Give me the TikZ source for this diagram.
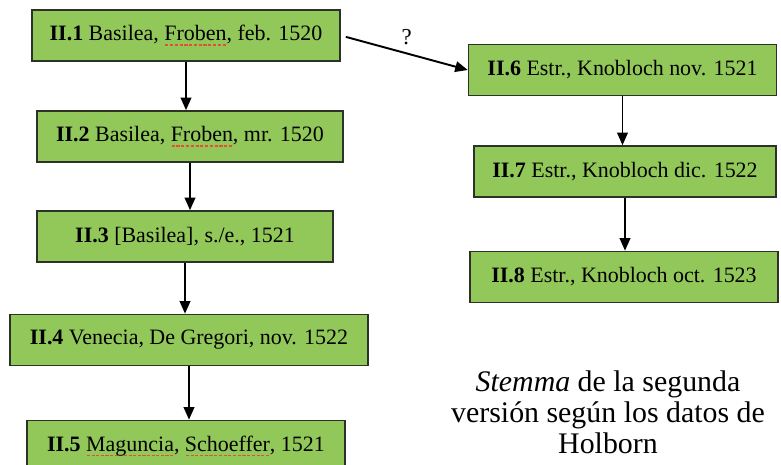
\documentclass[tikz,border=0pt]{standalone}
\usepackage{fontspec}
\setmainfont{Liberation Serif}
\usetikzlibrary{arrows.meta}

\definecolor{verde}{RGB}{146,200,90}
\definecolor{borde}{RGB}{45,50,40}
\definecolor{subrayado}{RGB}{230,80,50}
\newcommand{\errata}[1]{\setbox0=\hbox{#1}\rlap{\color{subrayado}\raisebox{-2.8pt}{\hbox to \wd0{\xleaders\hbox to 2.6pt{\hss\rule{1.8pt}{0.9pt}\hss}\hfill}}}\box0}

\begin{document}
\begin{tikzpicture}[x=0.02cm,y=-0.02cm,
		caja/.style={draw=borde,fill=verde,line width=0.9pt,minimum height=1.02cm,inner sep=0pt,font=\fontsize{12.5}{14}\selectfont},
		flecha/.style={-{Triangle[length=0.25cm,width=0.21cm]},line width=1.1pt}]
	\useasboundingbox (0,0) rectangle (781,465);
	\clip (0,0) rectangle (781,465);

	% primera columna
	\node[caja,minimum width=6.16cm] (ed1) at (186,35.5) {\textbf{II.1} Basilea, \errata{Froben}, feb. 1520};
	\node[caja,minimum width=6.12cm] (ed2) at (190,136.5) {\textbf{II.2} Basilea, \errata{Froben}, mr. 1520};
	\node[caja,minimum width=5.92cm] (ed3) at (185,236.5) {\textbf{II.3} [Basilea], s./e., 1521};
	\node[caja,minimum width=7.16cm] (ed4) at (189,340) {\textbf{II.4} Venecia, De Gregori, nov. 1522};
	\node[caja,minimum width=6.36cm] (ed5) at (186,446) {\textbf{II.5} \errata{Maguncia}, \errata{Schoeffer}, 1521};

	% segunda columna
	\node[caja,minimum width=6.16cm] (ed6) at (622.5,70) {\textbf{II.6} Estr., Knobloch nov. 1521};
	\node[caja,minimum width=6.04cm] (ed7) at (625,171.5) {\textbf{II.7} Estr., Knobloch dic. 1522};
	\node[caja,minimum width=6.16cm] (ed8) at (624,277) {\textbf{II.8} Estr., Knobloch oct. 1523};

	\node[align=center,font=\fontsize{17}{17.6}\selectfont] (titulo) at (608,412)
		{\textit{Stemma} de la segunda\\versión según los datos de\\Holborn};

	\draw[flecha] (ed1.south) -- (ed1.south |- ed2.north);
	\draw[flecha] (ed2.south) -- (ed2.south |- ed3.north);
	\draw[flecha] (ed3.south) -- (ed3.south |- ed4.north);
	\draw[flecha] (ed4.south) -- (ed4.south |- ed5.north);
	\draw[flecha] (ed6.south) -- (ed6.south |- ed7.north);
	\draw[flecha] (ed7.south) -- (ed7.south |- ed8.north);
	\draw[flecha,shorten <=3pt] (ed1.east) -- (ed6.west)
		node[pos=0.52,above=1pt,font=\fontsize{13}{14}\selectfont] {?};
\end{tikzpicture}
\end{document}
